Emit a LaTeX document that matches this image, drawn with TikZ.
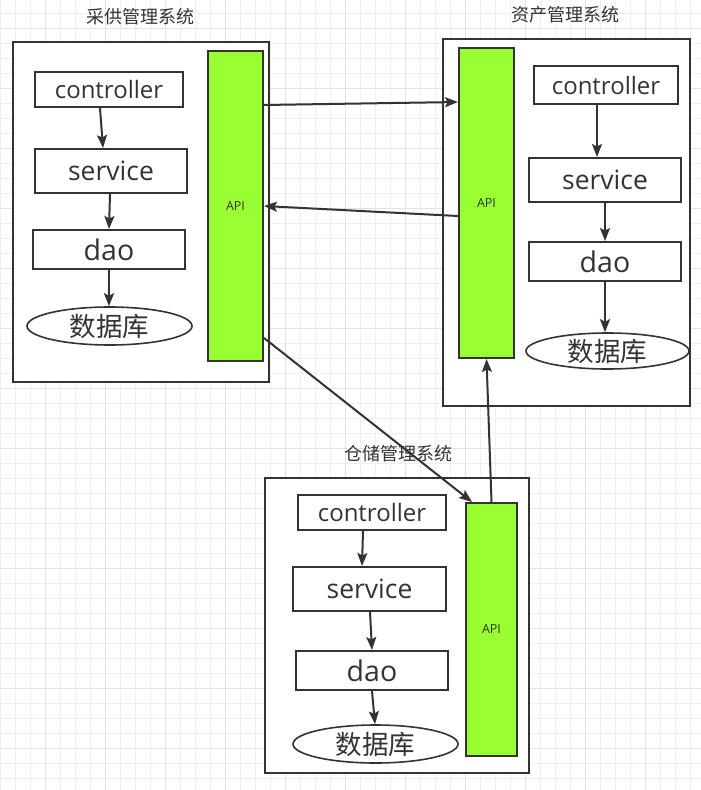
\documentclass[tikz,border=0pt]{standalone}
\usepackage{fontspec}
\setmainfont{Open Sans}
\newfontfamily\cjk{Noto Sans CJK SC}
\usetikzlibrary{shapes.geometric,arrows.meta,calc}
\definecolor{ink}{HTML}{333333}
\definecolor{apigreen}{HTML}{99FF33}
\definecolor{gridminor}{HTML}{EFEFEF}
\definecolor{gridmajor}{HTML}{E2E2E2}
\tikzset{
  sysbox/.style={draw=ink, line width=2pt, fill=white, rectangle, inner sep=0pt},
  apibar/.style={draw=ink, line width=2pt, fill=apigreen, rectangle, inner sep=0pt, text=ink, font=\fontsize{12.5}{14}\selectfont},
  layer/.style={draw=ink, line width=2pt, fill=white, rectangle, inner sep=0pt, text=ink},
  ctrl/.style={layer, font=\fontsize{24}{28}\selectfont},
  svc/.style={layer, font=\fontsize{26.5}{30}\selectfont},
  daobox/.style={layer, font=\fontsize{28.5}{32}\selectfont},
  dbell/.style={draw=ink, line width=1.6pt, fill=white, ellipse, inner sep=0pt, text=ink, font=\cjk\fontsize{26.5}{30}\selectfont},
  systitle/.style={text=ink, inner sep=0pt, font=\cjk\fontsize{18}{20}\selectfont},
  flow/.style={draw=ink, line width=2pt, -{Stealth[length=13pt,width=10pt,inset=2.5pt]}},
}
\begin{document}
\begin{tikzpicture}[x=1pt,y=-1pt]
\useasboundingbox (0,0) rectangle (701,790);
\fill[white] (0,0) rectangle (701,790);
% grid
\foreach \gx in {0,15,...,700} \draw[gridminor, line width=1pt] (\gx,0) -- (\gx,790);
\foreach \gy in {13,28,...,790} \draw[gridminor, line width=1pt] (0,\gy) -- (701,\gy);
\foreach \gx in {45,105,...,700} \draw[gridmajor, line width=1pt] (\gx,0) -- (\gx,790);
\foreach \gy in {28,88,...,790} \draw[gridmajor, line width=1pt] (0,\gy) -- (701,\gy);

% system 1: 采供管理系统
\node[systitle] (t1) at (140,17) {采供管理系统};
\node[sysbox, minimum width=256pt, minimum height=340pt] (B1) at (141,212) {};
\node[apibar, minimum width=55pt, minimum height=310pt] (A1) at (235.5,206) {API};
\node[ctrl, minimum width=148pt, minimum height=35pt] (c1) at (109,89.5) {controller};
\node[svc, minimum width=152pt, minimum height=44pt] (s1) at (111,171) {service};
\node[daobox, minimum width=152pt, minimum height=39pt] (d1) at (109,249.5) {dao};
\node[dbell, minimum width=165pt, minimum height=38pt] (db1) at (109.5,326) {数据库};

% system 2: 资产管理系统
\node[systitle] (t2) at (565,15) {资产管理系统};
\node[sysbox, minimum width=247pt, minimum height=367pt] (B2) at (566.5,222.5) {};
\node[apibar, minimum width=55pt, minimum height=310pt] (A2) at (486.5,203) {API};
\node[ctrl, minimum width=144pt, minimum height=38pt] (c2) at (606,85) {controller};
\node[svc, minimum width=152pt, minimum height=44pt] (s2) at (605,180) {service};
\node[daobox, minimum width=152pt, minimum height=39pt] (d2) at (605,261.5) {dao};
\node[dbell, minimum width=163pt, minimum height=36pt] (db2) at (607.5,351) {数据库};

% system 3: 仓储管理系统
\node[systitle] (t3) at (398,454) {仓储管理系统};
\node[sysbox, minimum width=264pt, minimum height=295pt] (B3) at (397,625.5) {};
\node[apibar, minimum width=51pt, minimum height=253pt] (A3) at (491.5,629.5) {API};
\node[ctrl, minimum width=148pt, minimum height=35pt] (c3) at (372,512.5) {controller};
\node[svc, minimum width=153pt, minimum height=44pt] (s3) at (369.5,589) {service};
\node[daobox, minimum width=152pt, minimum height=39pt] (d3) at (372,670.5) {dao};
\node[dbell, minimum width=165pt, minimum height=38pt] (db3) at (375.5,744) {数据库};

% internal layer arrows
\draw[flow] ($(c1.south)+(-9,0)$) -- ($(s1.north)+(-8,0)$);
\draw[flow] ($(s1.south)+(-1,0)$) -- (d1.north);
\draw[flow] (d1.south) -- ($(db1.north)+(-0.5,0)$);

\draw[flow] ($(c2.south)+(-9,0)$) -- ($(s2.north)+(-8,0)$);
\draw[flow] (s2.south) -- (d2.north);
\draw[flow] (d2.south) -- ($(db2.north)+(-2.5,0)$);

\draw[flow] ($(c3.south)+(-9,0)$) -- ($(s3.north)+(-7.5,0)$);
\draw[flow] ($(s3.south)+(0.5,0)$) -- (d3.north);
\draw[flow] (d3.south) -- ($(db3.north)+(-0.5,0)$);

% API interactions
\draw[flow] ($(A1.east)+(0,-101)$) -- ($(A2.west)+(0,-101)$);
\draw[flow] ($(A2.west)+(0,13)$) -- (A1.east);
\draw[flow] ($(A1.east)+(0,132)$) -- ($(A3.north)+(-19.5,0)$);
\draw[flow] (A3.north) -- (A2.south);
\end{tikzpicture}
\end{document}
